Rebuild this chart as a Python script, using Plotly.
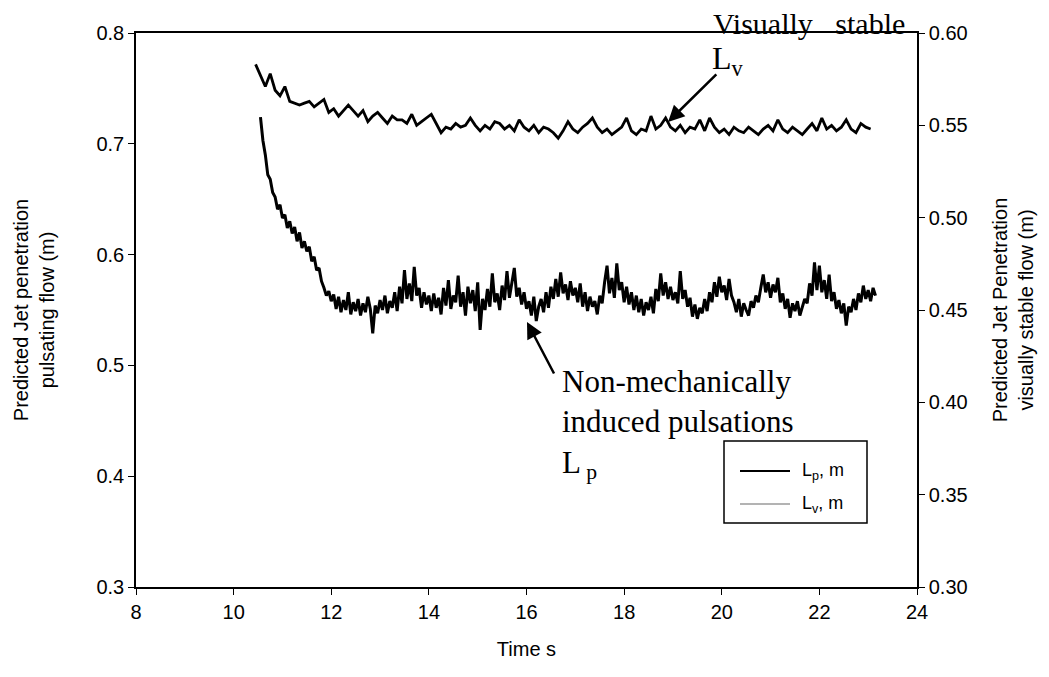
import plotly.graph_objects as go

# ---------------- data ----------------
# Pulsating-flow jet penetration Lp (left axis, m), sampled every 0.05 s from 10.55 s
lp_start, lp_step = 10.55, 0.05
lp_values = [
    0.724, 0.703, 0.690, 0.672, 0.668, 0.656, 0.652, 0.641, 0.645, 0.633,
    0.636, 0.624, 0.630, 0.619, 0.625, 0.612, 0.620, 0.606, 0.612, 0.603,
    0.607, 0.594, 0.598, 0.586, 0.588, 0.576, 0.570, 0.563, 0.567, 0.558,
    0.564, 0.551, 0.562, 0.548, 0.559, 0.550, 0.566, 0.546, 0.557, 0.549,
    0.560, 0.545, 0.556, 0.548, 0.562, 0.551, 0.529, 0.554, 0.547, 0.559,
    0.550, 0.563, 0.547, 0.558, 0.552, 0.566, 0.549, 0.571, 0.556, 0.586,
    0.560, 0.574, 0.558, 0.589, 0.563, 0.570, 0.552, 0.566, 0.555, 0.563,
    0.549, 0.565, 0.552, 0.561, 0.546, 0.570, 0.554, 0.577, 0.551, 0.563,
    0.557, 0.581, 0.553, 0.566, 0.545, 0.571, 0.556, 0.568, 0.549, 0.575,
    0.532, 0.560, 0.550, 0.569, 0.553, 0.583, 0.557, 0.565, 0.550, 0.572,
    0.559, 0.585, 0.561, 0.576, 0.588, 0.562, 0.570, 0.555, 0.566, 0.551,
    0.558, 0.545, 0.562, 0.540, 0.553, 0.560, 0.548, 0.566, 0.552, 0.571,
    0.560, 0.578, 0.562, 0.584, 0.565, 0.573, 0.559, 0.576, 0.563, 0.570,
    0.557, 0.574, 0.553, 0.566, 0.549, 0.562, 0.553, 0.558, 0.546, 0.563,
    0.556, 0.575, 0.590, 0.565, 0.579, 0.561, 0.592, 0.568, 0.575, 0.557,
    0.571, 0.555, 0.566, 0.550, 0.563, 0.548, 0.560, 0.545, 0.557, 0.550,
    0.562, 0.547, 0.569, 0.558, 0.583, 0.563, 0.575, 0.560, 0.571, 0.559,
    0.566, 0.556, 0.585, 0.560, 0.568, 0.553, 0.561, 0.544, 0.555, 0.542,
    0.552, 0.547, 0.560, 0.549, 0.566, 0.557, 0.575, 0.562, 0.580, 0.566,
    0.572, 0.559, 0.578, 0.563, 0.557, 0.548, 0.560, 0.544, 0.556, 0.550,
    0.545, 0.558, 0.552, 0.563, 0.557, 0.570, 0.582, 0.566, 0.575, 0.561,
    0.573, 0.566, 0.579, 0.557, 0.565, 0.551, 0.560, 0.543, 0.556, 0.549,
    0.558, 0.545, 0.553, 0.560, 0.556, 0.574, 0.563, 0.593, 0.568, 0.590,
    0.566, 0.577, 0.560, 0.582, 0.558, 0.566, 0.551, 0.559, 0.547, 0.556,
    0.536, 0.553, 0.548, 0.560, 0.550, 0.565, 0.557, 0.572, 0.560, 0.568,
    0.558, 0.570, 0.563,
]

# Visually-stable jet penetration Lv (right axis, m), sampled every 0.1 s from 10.45 s
lv_start, lv_step = 10.45, 0.1
lv_values = [
    0.583, 0.577, 0.571, 0.578, 0.569, 0.566, 0.571, 0.563, 0.562, 0.561,
    0.562, 0.563, 0.560, 0.562, 0.564, 0.557, 0.559, 0.555, 0.558, 0.561,
    0.558, 0.555, 0.558, 0.552, 0.555, 0.557, 0.554, 0.551, 0.555, 0.553,
    0.553, 0.551, 0.556, 0.550, 0.552, 0.554, 0.556, 0.551, 0.546, 0.549,
    0.548, 0.551, 0.549, 0.550, 0.554, 0.550, 0.547, 0.550, 0.548, 0.552,
    0.551, 0.548, 0.550, 0.547, 0.553, 0.549, 0.547, 0.550, 0.546, 0.549,
    0.548, 0.546, 0.543, 0.547, 0.552, 0.548, 0.546, 0.549, 0.551, 0.554,
    0.549, 0.546, 0.548, 0.545, 0.547, 0.549, 0.554, 0.547, 0.545, 0.548,
    0.547, 0.555, 0.548, 0.550, 0.554, 0.549, 0.547, 0.550, 0.546, 0.549,
    0.548, 0.553, 0.547, 0.554, 0.549, 0.546, 0.548, 0.545, 0.549, 0.547,
    0.546, 0.549, 0.547, 0.545, 0.548, 0.550, 0.547, 0.553, 0.548, 0.546,
    0.549, 0.547, 0.545, 0.548, 0.551, 0.547, 0.554, 0.548, 0.550, 0.547,
    0.549, 0.553, 0.548, 0.546, 0.551, 0.549, 0.548,
]

x_ticks = [8, 10, 12, 14, 16, 18, 20, 22, 24]
y_left_ticks = [0.3, 0.4, 0.5, 0.6, 0.7, 0.8]
y_right_ticks = [0.30, 0.35, 0.40, 0.45, 0.50, 0.55, 0.60]

lp_time = [round(lp_start + i * lp_step, 3) for i in range(len(lp_values))]
lv_time = [round(lv_start + i * lv_step, 3) for i in range(len(lv_values))]

# ---------------- figure ----------------
SERIF = "Liberation Serif, Times New Roman, serif"
SANS = "Liberation Sans, Arial, sans-serif"

fig = go.Figure()
fig.add_trace(go.Scatter(x=lp_time, y=lp_values, mode="lines", name="L<sub>p</sub>, m",
                         line=dict(color="black", width=3), showlegend=False, yaxis="y"))
fig.add_trace(go.Scatter(x=lv_time, y=lv_values, mode="lines", name="L<sub>v</sub>, m",
                         line=dict(color="black", width=2.8), showlegend=False, yaxis="y2"))

axis_common = dict(showgrid=False, zeroline=False, showline=True, linecolor="black",
                   linewidth=1.5, ticks="outside", ticklen=6, tickcolor="black", tickwidth=1.2,
                   tickfont=dict(family=SANS, size=20, color="black"))

title_font = dict(family=SANS, size=20, color="black")

fig.update_layout(
    width=1049, height=677,
    margin=dict(l=136, r=132, t=33, b=90, autoexpand=False),
    paper_bgcolor="white", plot_bgcolor="white",
    xaxis=dict(range=[8, 24], tickvals=x_ticks, mirror=True,
               title=dict(text="Time s", font=title_font, standoff=20),
               **axis_common),
    yaxis=dict(range=[0.3, 0.8], tickvals=y_left_ticks, tickformat=".1f",
               title=dict(text="Predicted Jet penetration<br>pulsating flow (m)",
                          font=title_font, standoff=36),
               **axis_common),
    yaxis2=dict(range=[0.30, 0.60], tickvals=y_right_ticks, tickformat=".2f",
                overlaying="y", side="right",
                title=dict(text="Predicted Jet Penetration<br>visually stable flow (m)",
                           font=title_font, standoff=26),
                **axis_common),
    showlegend=False,
)

def px_x(p):
    return (p - 136) / 781.0

def px_y(p):
    return (587 - p) / 554.0

# custom legend box (matches reference layout: grey line for Lv)
fig.add_shape(type="rect", xref="paper", yref="paper", x0=px_x(724), x1=px_x(867),
              y0=px_y(523), y1=px_y(441), line=dict(color="black", width=1.5), fillcolor="white")
fig.add_shape(type="line", xref="paper", yref="paper", x0=px_x(740), x1=px_x(790),
              y0=px_y(471), y1=px_y(471), line=dict(color="black", width=2))
fig.add_shape(type="line", xref="paper", yref="paper", x0=px_x(740), x1=px_x(790),
              y0=px_y(504), y1=px_y(504), line=dict(color="#9a9a9a", width=1.5))
fig.add_annotation(xref="paper", yref="paper", x=px_x(800), y=px_y(471), xanchor="left",
                   yanchor="middle", showarrow=False, text="L<sub>p</sub>, m",
                   font=dict(family=SANS, size=18, color="black"))
fig.add_annotation(xref="paper", yref="paper", x=px_x(800), y=px_y(504), xanchor="left",
                   yanchor="middle", showarrow=False, text="L<sub>v</sub>, m",
                   font=dict(family=SANS, size=18, color="black"))

# text annotations
fig.add_annotation(xref="paper", yref="paper", x=px_x(711), y=1.0, xanchor="left",
                   yanchor="bottom", yshift=-9, showarrow=False, text="Visually   stable",
                   font=dict(family=SERIF, size=30, color="black"))
fig.add_annotation(xref="paper", yref="paper", x=px_x(710), y=px_y(38), xanchor="left",
                   yanchor="top", showarrow=False, text="L<sub>v</sub>",
                   font=dict(family=SERIF, size=32, color="black"))
fig.add_annotation(xref="paper", yref="paper", x=px_x(560), y=px_y(362), xanchor="left",
                   yanchor="top", align="left", showarrow=False,
                   text="Non-mechanically<br>induced pulsations<br>L<sub> p</sub>",
                   font=dict(family=SERIF, size=31, color="black"))

# arrows
fig.add_annotation(x=18.90, y=0.7197, ax=19.92, ay=0.7639, xref="x", yref="y",
                   axref="x", ayref="y", text="", showarrow=True, arrowhead=2,
                   arrowsize=1.3, arrowwidth=2.5, arrowcolor="black")
fig.add_annotation(x=16.01, y=0.5392, ax=16.58, ay=0.4913, xref="x", yref="y",
                   axref="x", ayref="y", text="", showarrow=True, arrowhead=2,
                   arrowsize=1.3, arrowwidth=2.5, arrowcolor="black")

fig.write_html("out.html")
